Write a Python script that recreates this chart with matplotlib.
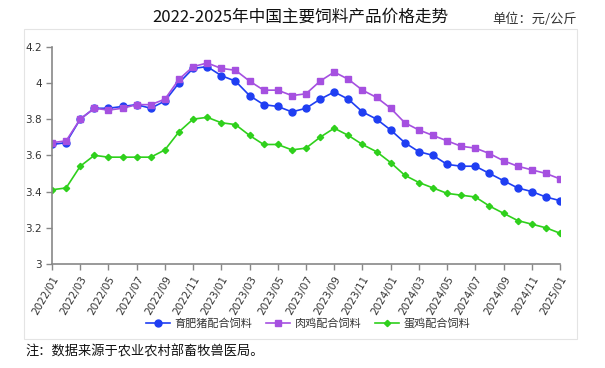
import matplotlib
matplotlib.use("Agg")
import matplotlib.pyplot as plt
from matplotlib.patches import Rectangle
from matplotlib.ticker import FuncFormatter

plt.rcParams['font.family'] = ['Noto Sans CJK SC', 'DejaVu Sans']

# monthly labels 2022/01 .. 2025/01
months = ["%d/%02d" % (2022 + i // 12, i % 12 + 1) for i in range(37)]

pig = [3.66, 3.67, 3.80, 3.86, 3.86, 3.87, 3.88, 3.86, 3.90, 4.00, 4.08, 4.09,
       4.04, 4.01, 3.93, 3.88, 3.87, 3.84, 3.86, 3.91, 3.95, 3.91, 3.84, 3.80,
       3.74, 3.67, 3.62, 3.60, 3.55, 3.54, 3.54, 3.50, 3.46, 3.42, 3.40, 3.37,
       3.35]
broiler = [3.67, 3.68, 3.80, 3.86, 3.85, 3.86, 3.88, 3.88, 3.91, 4.02, 4.09, 4.11,
           4.08, 4.07, 4.01, 3.96, 3.96, 3.93, 3.94, 4.01, 4.06, 4.02, 3.96, 3.92,
           3.86, 3.78, 3.74, 3.71, 3.68, 3.65, 3.64, 3.61, 3.57, 3.54, 3.52, 3.50,
           3.47]
layer = [3.41, 3.42, 3.54, 3.60, 3.59, 3.59, 3.59, 3.59, 3.63, 3.73, 3.80, 3.81,
         3.78, 3.77, 3.71, 3.66, 3.66, 3.63, 3.64, 3.70, 3.75, 3.71, 3.66, 3.62,
         3.56, 3.49, 3.45, 3.42, 3.39, 3.38, 3.37, 3.32, 3.28, 3.24, 3.22, 3.20,
         3.17]

names = ["育肥猪配合饲料", "肉鸡配合饲料", "蛋鸡配合饲料"]

fig = plt.figure(figsize=(6.05, 3.68), dpi=100)
fig.patches.append(Rectangle((24 / 605, 1 - 339 / 368), 553 / 605, 310 / 368,
                             transform=fig.transFigure, fill=False,
                             edgecolor="#e4e4e4", linewidth=0.8))

ax = fig.add_axes([52 / 605, 1 - 264 / 368, 508 / 605, 217.3 / 368])
x = list(range(len(months)))
ax.plot(x, pig, color="#1f3ef2", marker="o", ms=5, lw=1.2, label=names[0])
ax.plot(x, broiler, color="#a550e0", marker="s", ms=5, lw=1.2, label=names[1])
ax.plot(x, layer, color="#2fd01c", marker="D", ms=3.2, lw=1.2, label=names[2])

ax.set_xlim(0, 36)
ax.set_ylim(3, 4.2)
ax.set_yticks([3, 3.2, 3.4, 3.6, 3.8, 4, 4.2])
ax.yaxis.set_major_formatter(FuncFormatter(lambda v, p: "%g" % round(v, 1)))
ax.set_xticks(x[::2])
ax.set_xticklabels(months[::2], rotation=60, ha="right", va="top",
                   rotation_mode="anchor", family="DejaVu Sans")
for lab in ax.get_yticklabels():
    lab.set_family("DejaVu Sans")
ax.tick_params(axis="both", labelsize=7.5, colors="#333333", length=4,
               color="#888888", width=1)
for s in ["top", "right"]:
    ax.spines[s].set_visible(False)
for s in ["left", "bottom"]:
    ax.spines[s].set_color("#888888")
    ax.spines[s].set_linewidth(1.2)

fig.legend(loc="center", bbox_to_anchor=(308 / 605, 1 - 323 / 368), ncol=3,
           frameon=False, fontsize=8, handlelength=2.2, columnspacing=1.2,
           handletextpad=0.4, labelcolor="#333333")

fig.text(300 / 605, 1 - 17 / 368, "2022-2025年中国主要饲料产品价格走势",
         ha="center", va="center", fontsize=12, color="#111111")
fig.text(577 / 605, 1 - 19 / 368, "单位：元/公斤", ha="right", va="center",
         fontsize=9.5, color="#333333")
fig.text(25 / 605, 1 - 352 / 368, "注：数据来源于农业农村部畜牧兽医局。",
         ha="left", va="center", fontsize=9.5, color="#111111")

fig.savefig("out.png", dpi=100)
